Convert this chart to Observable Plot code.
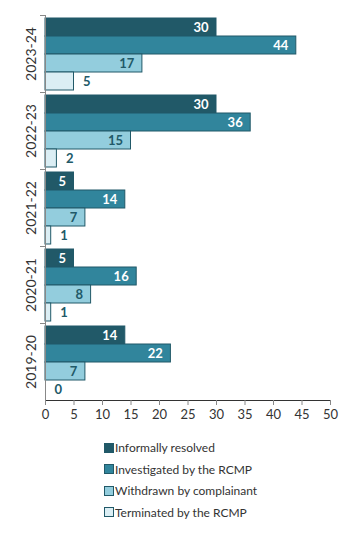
<!DOCTYPE html>
<html>
<head>
<meta charset="utf-8">
<script src="https://cdn.jsdelivr.net/npm/d3@7"></script>
<script src="https://cdn.jsdelivr.net/npm/@observablehq/plot@0.6"></script>
<style>
  body { margin: 0; background: #fff; font-family: Lato, "DejaVu Sans", sans-serif; }
  #legend { padding-left: 104px; margin-top: 12px; color: #333; font-size: 12px; }
  .row { display: flex; align-items: center; height: 21.5px; }
  .sw { width: 8px; height: 8px; border: 1px solid #215968; margin-right: 1px; }
</style>
</head>
<body>
<div id="chart"></div>
<div id="legend"></div>
<script>
const years = ["2023-24", "2022-23", "2021-22", "2020-21", "2019-20"];
const seriesNames = ["Informally resolved", "Investigated by the RCMP", "Withdrawn by complainant", "Terminated by the RCMP"];
const informallyResolved = [30, 30, 5, 5, 14];
const investigated = [44, 36, 14, 16, 22];
const withdrawn = [17, 15, 7, 8, 7];
const terminated = [5, 2, 1, 1, 0];
const colors = ["#215968", "#31859c", "#93cddd", "#dbeef4"];
const labelColors = ["#ffffff", "#ffffff", "#215968", "#215968"];

const seriesValues = [informallyResolved, investigated, withdrawn, terminated];
const rows = [];
years.forEach((y, i) => {
  seriesNames.forEach((s, k) => {
    rows.push({year: y, series: s, k, value: seriesValues[k][i]});
  });
});
const inside = rows.filter(d => d.k < 3);
const outside = rows.filter(d => d.k === 3);

const chart = Plot.plot({
  width: 354,
  height: 425,
  marginLeft: 45,
  marginRight: 24,
  marginTop: 15,
  marginBottom: 25,
  style: {fontFamily: "Lato, 'DejaVu Sans', sans-serif", color: "#333"},
  x: {domain: [0, 50], ticks: 10, line: true, tickSize: 5, label: null},
  y: {domain: seriesNames, axis: null, paddingInner: 0, paddingOuter: 0.05},
  fy: {domain: years, padding: 0, axis: null},
  color: {domain: seriesNames, range: colors},
  marks: [
    Plot.barX(rows, {fy: "year", y: "series", x: "value", fill: "series", stroke: "#215968", strokeWidth: 1}),
    Plot.text(inside, {fy: "year", y: "series", x: "value", text: d => String(d.value), textAnchor: "end", dx: -8,
      fill: d => labelColors[d.k], fontWeight: "bold", fontSize: 13}),
    Plot.text(outside, {fy: "year", y: "series", x: "value", text: d => String(d.value), textAnchor: "start", dx: 9,
      fill: "#215968", fontWeight: "bold", fontSize: 13}),
    Plot.frame({anchor: "left", stroke: "#888"}),
    Plot.frame({anchor: "top", stroke: "#888", insetLeft: -5, insetRight: 285}),
    Plot.axisFy({anchor: "left", tickSize: 0, tickPadding: 10, tickRotate: -90, fontSize: 14, label: null, fill: "#333"})
  ]
});
chart.querySelectorAll("[aria-label='x-axis tick'] path, [aria-label='x-axis line'] path").forEach(p => p.setAttribute("stroke", "#888"));
const xt = chart.querySelector("[aria-label='x-axis tick label']");
if (xt) xt.setAttribute("font-size", "13");
document.getElementById("chart").appendChild(chart);

const legend = document.getElementById("legend");
seriesNames.forEach((s, k) => {
  const row = document.createElement("div");
  row.className = "row";
  const sw = document.createElement("div");
  sw.className = "sw";
  sw.style.background = colors[k];
  const t = document.createElement("span");
  t.textContent = s;
  row.appendChild(sw);
  row.appendChild(t);
  legend.appendChild(row);
});
</script>
</body>
</html>
